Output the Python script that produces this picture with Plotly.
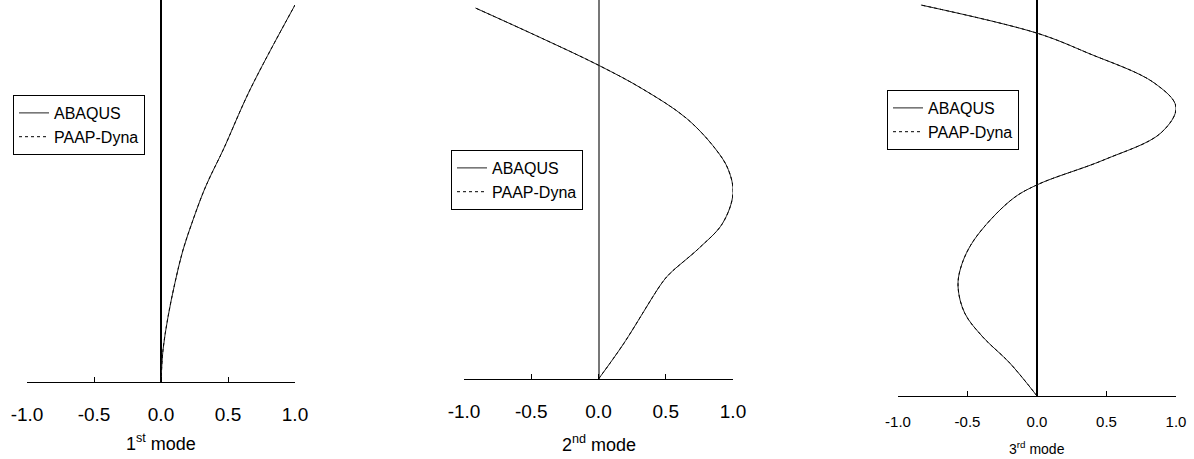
import plotly.graph_objects as go

# Mode shapes: (displacement, normalized height)
mode1_x = [0.0, 0.015, 0.052, 0.104, 0.164, 0.239, 0.313, 0.366, 0.463, 0.664, 1.0]
mode1_y = [0.0, 0.085, 0.172, 0.263, 0.350, 0.430, 0.501, 0.544, 0.615, 0.775, 1.0]

mode2_x = [0.0, 0.186, 0.468, 0.528, 0.751, 0.922, 1.0, 0.965, 0.87, 0.654, 0.33, 0.0, -0.439, -0.915]
mode2_y = [0.0, 0.094, 0.255, 0.281, 0.351, 0.416, 0.496, 0.560, 0.615, 0.697, 0.775, 0.839, 0.914, 0.992]

mode3_x = [0.0, -0.195, -0.39, -0.52, -0.568, -0.547, -0.453, -0.187, 0.0, 0.482, 0.892, 1.0, 0.842, 0.367, 0.0, -0.835]
mode3_y = [0.0, 0.084, 0.151, 0.212, 0.279, 0.330, 0.399, 0.501, 0.540, 0.604, 0.673, 0.739, 0.801, 0.877, 0.928, 1.0]

tick_vals = [-1.0, -0.5, 0.0, 0.5, 1.0]
tick_text = ["-1.0", "-0.5", "0.0", "0.5", "1.0"]
series_names = ["ABAQUS", "PAAP-Dyna"]
titles = ["1<sup>st</sup> mode", "2<sup>nd</sup> mode", "3<sup>rd</sup> mode"]

W, H = 1194, 459
FONT = "Arial, Liberation Sans, sans-serif"

fig = go.Figure()

panels = [
    dict(x=mode1_x, y=mode1_y, xpx=(27, 295), ybot=382, tfs=19, lab_y=413, title_y=442, ttfs=18,
         leg=(13, 95), zc="black"),
    dict(x=mode2_x, y=mode2_y, xpx=(464, 733), ybot=379, tfs=19, lab_y=410, title_y=443, ttfs=18,
         leg=(451, 150), zc="#777777"),
    dict(x=mode3_x, y=mode3_y, xpx=(898, 1176), ybot=396, tfs=15, lab_y=422, title_y=448, ttfs=14,
         leg=(887, 90), zc="black"),
]

for i, p in enumerate(panels):
    n = "" if i == 0 else str(i + 1)
    xa, ya = "x" + n, "y" + n
    lg = "legend" + n
    fig.add_trace(go.Scatter(x=p["x"], y=p["y"], mode="lines", name=series_names[0],
                             line=dict(color="#222222", width=1, shape="spline", smoothing=1.0),
                             xaxis=xa, yaxis=ya, legend=lg))
    fig.add_trace(go.Scatter(x=p["x"], y=p["y"], mode="lines", name=series_names[1],
                             line=dict(color="black", width=1, dash="dot", shape="spline", smoothing=1.0),
                             xaxis=xa, yaxis=ya, legend=lg))
    ybot = p["ybot"]
    yr_top = ybot / (ybot - 5)
    fig.layout["xaxis" + n] = dict(
        domain=[p["xpx"][0] / W, p["xpx"][1] / W], anchor=ya, automargin=False,
        range=[-1, 1], tickvals=tick_vals, ticktext=tick_text,
        showline=True, linecolor="black", linewidth=1,
        ticks="inside", ticklen=5, tickcolor="black", tickwidth=1,
        showgrid=False, zeroline=True, zerolinecolor=p["zc"], zerolinewidth=1.5,
        tickfont=dict(family=FONT, size=p["tfs"], color="black"),
        ticklabelstandoff=max(0, p["lab_y"] - ybot - p["tfs"] // 2 - 7),
    )
    fig.layout["yaxis" + n] = dict(
        domain=[1 - ybot / H, 1], anchor=xa, range=[0, yr_top], automargin=False,
        visible=False, showgrid=False, zeroline=False,
    )
    fig.layout[lg] = dict(
        x=p["leg"][0] / W, y=1 - p["leg"][1] / H, xanchor="left", yanchor="top",
        xref="paper", yref="paper",
        bgcolor="white", bordercolor="black", borderwidth=1,
        font=dict(family=FONT, size=16, color="black"),
        tracegroupgap=0, itemwidth=30,
    )
    fig.add_annotation(
        text=titles[i], xref="paper", yref="paper",
        x=(p["xpx"][0] + p["xpx"][1]) / 2 / W, y=1 - p["title_y"] / H,
        xanchor="center", yanchor="middle", showarrow=False,
        font=dict(family=FONT, size=p["ttfs"], color="black"),
    )

fig.update_layout(
    width=W, height=H, margin=dict(l=0, r=0, t=0, b=0, autoexpand=False),
    paper_bgcolor="white", plot_bgcolor="white", showlegend=True,
)

fig.write_html("out.html")
